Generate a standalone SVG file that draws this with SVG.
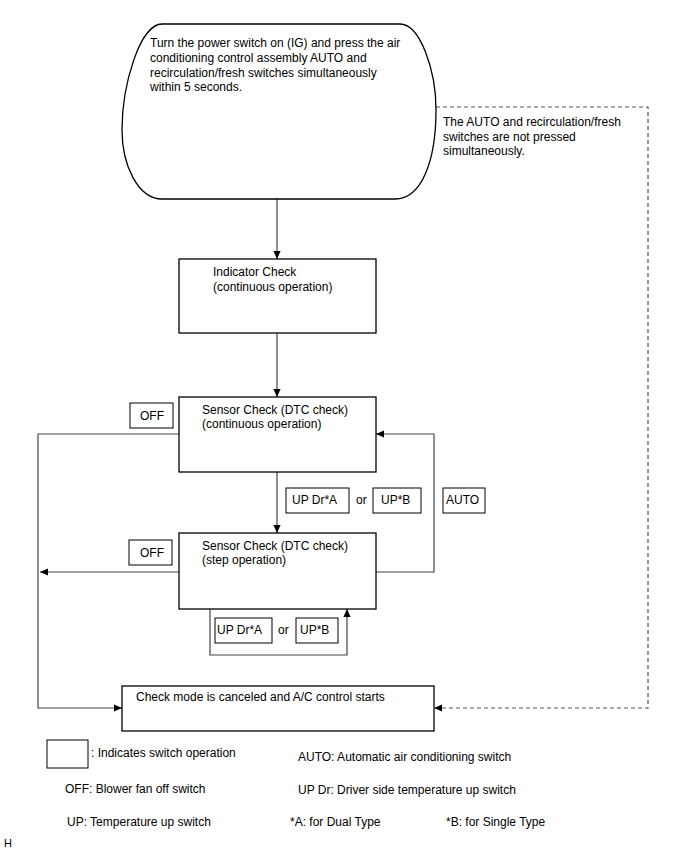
<svg xmlns="http://www.w3.org/2000/svg" width="688" height="852" viewBox="0 0 688 852">
<style>
text{font-family:"Liberation Sans",Arial,sans-serif;font-size:12px;fill:#000}
.node{fill:#fff;stroke:#000;stroke-width:1.3}
.sw{fill:#fff;stroke:#000;stroke-width:1}
.ln{fill:none;stroke:#444;stroke-width:1.2}
.dash{fill:none;stroke:#555;stroke-width:1.2;stroke-dasharray:4,3}
</style>
<defs>
<marker id="ah" viewBox="0 0 10 10" refX="10" refY="5" markerWidth="9" markerHeight="8" markerUnits="userSpaceOnUse" orient="auto">
<path d="M0,0.5 L10,5 L0,9.5 Z" fill="#000"/>
</marker>
</defs>
<rect width="688" height="852" fill="#fff"/>
<g id="connectors">
<path class="ln" d="M277,199 V259" marker-end="url(#ah)"/>
<path class="ln" d="M277,333 V397" marker-end="url(#ah)"/>
<path class="ln" d="M277,472 V533" marker-end="url(#ah)"/>
<path class="ln" d="M179,434 H38 V708 H122" marker-end="url(#ah)"/>
<path class="ln" d="M179,572 H40" marker-end="url(#ah)"/>
<path class="ln" d="M376,572 H434 V434 H376" marker-end="url(#ah)"/>
<path class="ln" d="M210,609 V655 H347 V609" marker-end="url(#ah)"/>
<path class="dash" d="M436,107 H648 V708 H434" marker-end="url(#ah)"/>
</g>
<g id="start">
<path class="node" d="M162,24 H400 C420,24 436,70 436,110 C436,160 422,199 395,199 H162 C138,199 122,165 122,130 C122,85 140,24 162,24 Z"/>
<text x="150" y="47">Turn the power switch on (IG) and press the air</text>
<text x="150" y="62">conditioning control assembly AUTO and</text>
<text x="150" y="77">recirculation/fresh switches simultaneously</text>
<text x="150" y="91">within 5 seconds.</text>
</g>
<g id="not-pressed-label">
<text x="443" y="126">The AUTO and recirculation/fresh</text>
<text x="443" y="141">switches are not pressed</text>
<text x="443" y="155">simultaneously.</text>
</g>
<g id="indicator">
<rect class="node" x="179" y="259" width="197" height="74"/>
<text x="213" y="276">Indicator Check</text>
<text x="213" y="291">(continuous operation)</text>
</g>
<g id="sensor-continuous">
<rect class="node" x="179" y="397" width="197" height="75"/>
<text x="202" y="414">Sensor Check (DTC check)</text>
<text x="202" y="428">(continuous operation)</text>
</g>
<g id="sensor-step">
<rect class="node" x="179" y="533" width="197" height="76"/>
<text x="202" y="550">Sensor Check (DTC check)</text>
<text x="202" y="564">(step operation)</text>
</g>
<g id="check-cancel">
<rect class="node" x="122" y="686" width="312" height="45"/>
<text x="136" y="701">Check mode is canceled and A/C control starts</text>
</g>
<g id="sw-off-1">
<rect class="sw" x="130" y="403" width="43" height="25"/>
<text x="140" y="420">OFF</text>
</g>
<g id="sw-off-2">
<rect class="sw" x="129" y="540" width="43" height="25"/>
<text x="140" y="557">OFF</text>
</g>
<g id="sw-updr-1">
<rect class="sw" x="286" y="488" width="63" height="25"/>
<text x="292" y="504">UP Dr*A</text>
<text x="356" y="504">or</text>
</g>
<g id="sw-up-1">
<rect class="sw" x="373" y="488" width="48" height="25"/>
<text x="381" y="504">UP*B</text>
</g>
<g id="sw-auto">
<rect class="sw" x="443" y="488" width="42" height="25"/>
<text x="446" y="504">AUTO</text>
</g>
<g id="sw-updr-2">
<rect class="sw" x="215" y="618" width="57" height="25"/>
<text x="217" y="634">UP Dr*A</text>
<text x="278" y="634">or</text>
</g>
<g id="sw-up-2">
<rect class="sw" x="296" y="618" width="42" height="25"/>
<text x="300" y="634">UP*B</text>
</g>
<g id="legend">
<rect class="sw" x="47" y="740" width="41" height="28"/>
<text x="91" y="757">: Indicates switch operation</text>
<text x="298" y="761">AUTO: Automatic air conditioning switch</text>
<text x="65" y="793">OFF: Blower fan off switch</text>
<text x="298" y="794">UP Dr: Driver side temperature up switch</text>
<text x="67" y="826">UP: Temperature up switch</text>
<text x="290" y="826">*A: for Dual Type</text>
<text x="446" y="826">*B: for Single Type</text>
<text x="4" y="847" style="font-size:11px">H</text>
</g>
</svg>
